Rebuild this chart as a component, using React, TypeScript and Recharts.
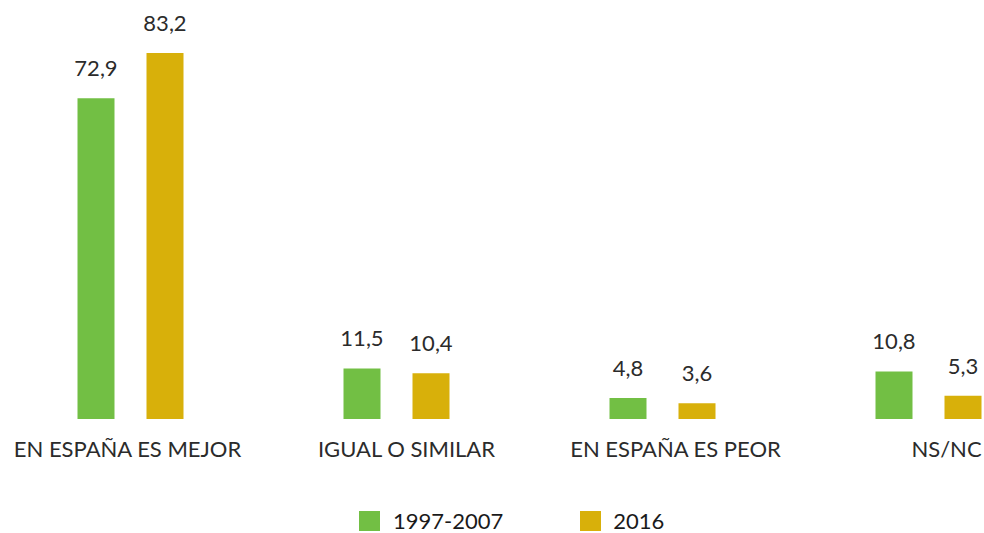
import React from "react";
import { BarChart, Bar, XAxis, YAxis, Legend, LabelList } from "recharts";

const categories = ["EN ESPAÑA ES MEJOR", "IGUAL O SIMILAR", "EN ESPAÑA ES PEOR", "NS/NC"];
const series1997 = [72.9, 11.5, 4.8, 10.8];
const series2016 = [83.2, 10.4, 3.6, 5.3];
const seriesNames = ["1997-2007", "2016"];
const colors = ["#72BF44", "#D8B00A"];

const data = categories.map((c, i) => ({ name: c, a: series1997[i], b: series2016[i] }));

const tickShift = [-3, 10, 13, 18];
const FONT = "Lato, 'Noto Sans', sans-serif";

const fmt = (v: any) => String(v).replace(".", ",");

const Tick = (props: any) => {
  const { x, y, payload, index } = props;
  return (
    <text x={x + (tickShift[index] || 0)} y={y} dy="0.71em" textAnchor="middle" fill="#2b2b2b" fontSize={22} fontFamily={FONT}>
      {payload.value}
    </text>
  );
};

const LegendContent = () => (
  <div style={{ display: "flex", alignItems: "center", fontFamily: FONT, fontSize: 22, lineHeight: "20px", color: "#1a1a1a", paddingLeft: 369 }}>
    <span style={{ width: 21, height: 20, background: colors[0], display: "inline-block", marginRight: 13 }} />
    <span style={{ marginRight: 77 }}>{seriesNames[0]}</span>
    <span style={{ width: 21, height: 20, background: colors[1], display: "inline-block", marginRight: 12 }} />
    <span>{seriesNames[1]}</span>
  </div>
);

export default function App() {
  return (
    <div style={{ position: "fixed", left: 0, top: 0, width: 984, height: 533, overflow: "hidden", background: "#fff" }}>
      <div style={{ position: "absolute", left: -10, top: 0 }}>
        <BarChart
          width={1080}
          height={533}
          data={data}
          margin={{ top: 23, right: 8.5, left: 7.5, bottom: 22 }}
          barCategoryGap={80}
          barGap={32}
        >
          <XAxis dataKey="name" axisLine={false} tickLine={false} tickSize={0} tickMargin={22} height={70} tick={<Tick />} interval={0} />
          <YAxis hide domain={[0, 90]} />
          <Legend
            verticalAlign="bottom"
            height={22}
            content={<LegendContent />}
            wrapperStyle={{ top: 511, bottom: "auto", left: 0, width: 1080 }}
          />
          <Bar dataKey="a" name={seriesNames[0]} fill={colors[0]} barSize={37} isAnimationActive={false}>
            <LabelList dataKey="a" position="top" offset={22} formatter={fmt} fill="#2b2b2b" fontSize={22} fontFamily={FONT} />
          </Bar>
          <Bar dataKey="b" name={seriesNames[1]} fill={colors[1]} barSize={37} isAnimationActive={false}>
            <LabelList dataKey="b" position="top" offset={22} formatter={fmt} fill="#2b2b2b" fontSize={22} fontFamily={FONT} />
          </Bar>
        </BarChart>
      </div>
    </div>
  );
}
